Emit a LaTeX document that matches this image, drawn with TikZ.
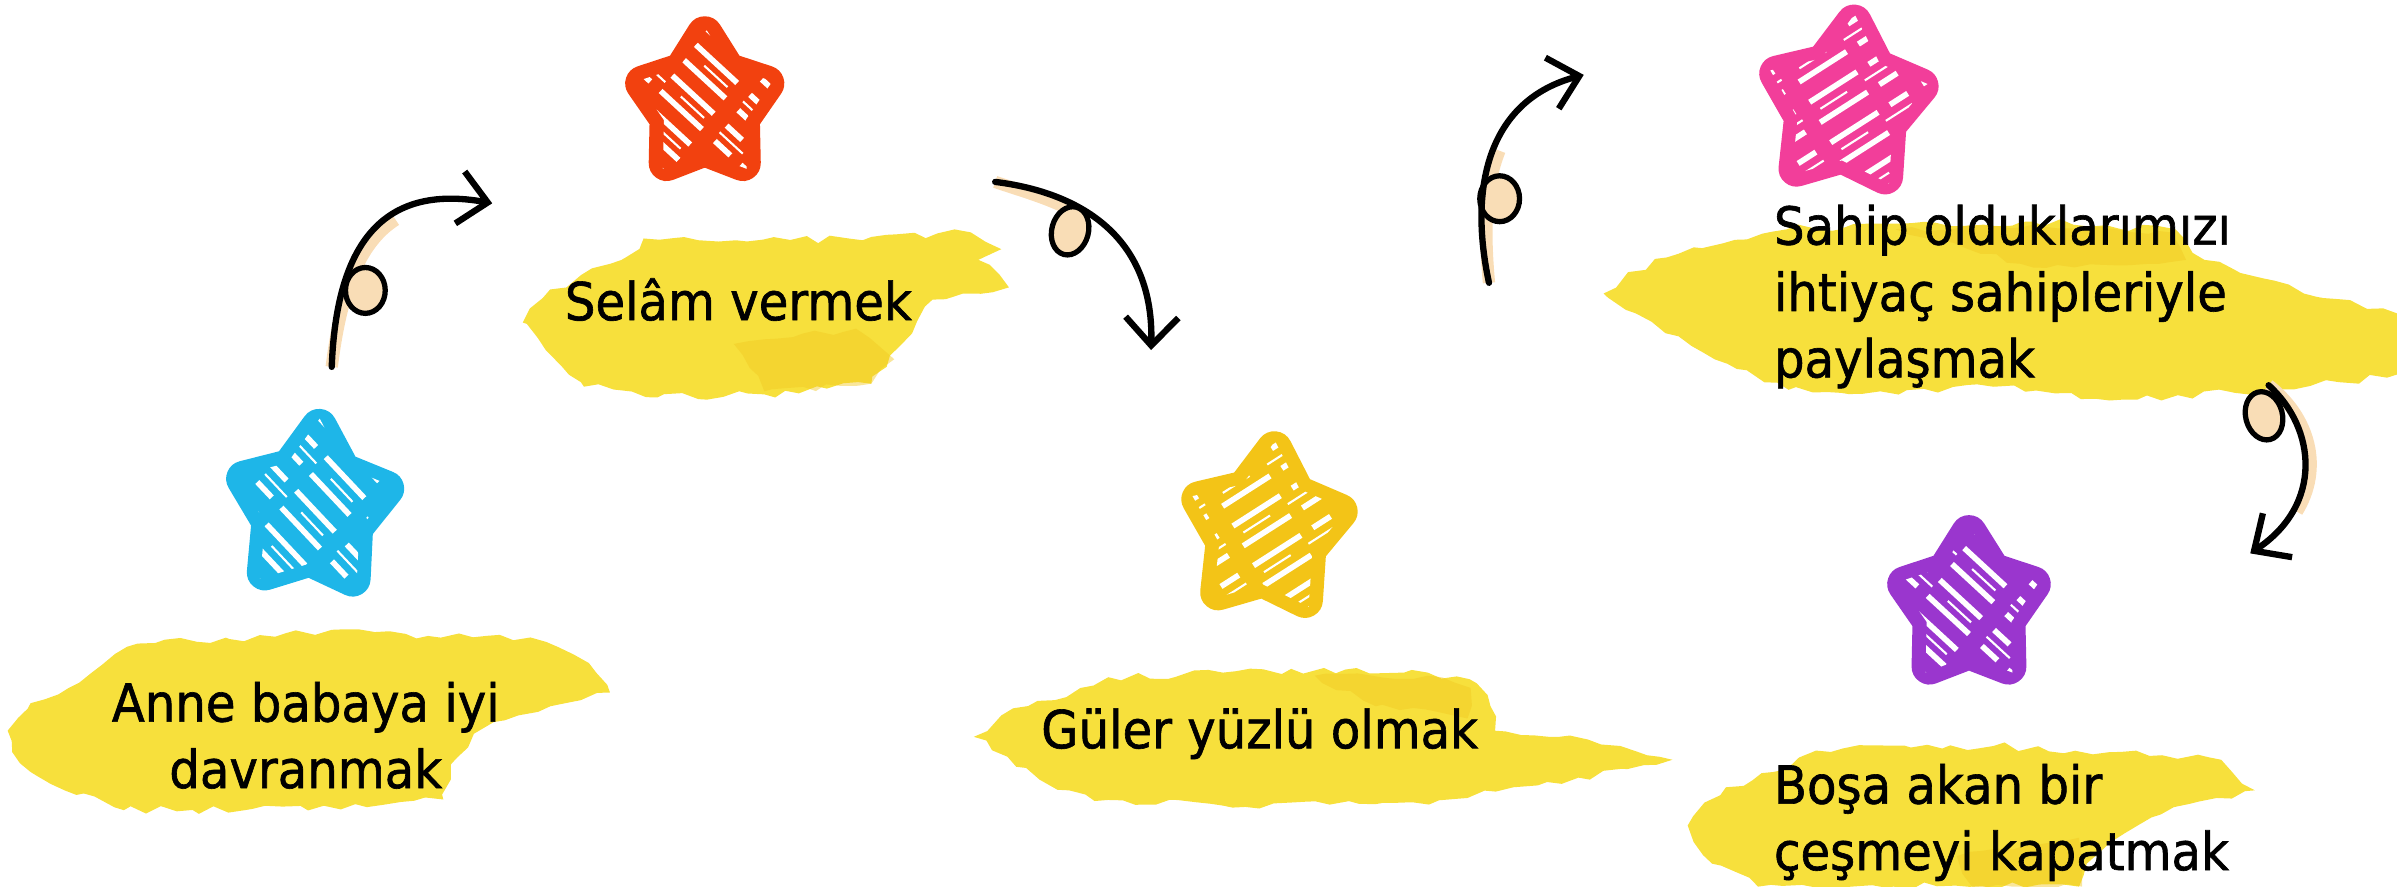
\documentclass[tikz,border=0pt]{standalone}
\usepackage{fontspec}
\newfontfamily\labelfont[FakeStretch=0.92,FakeBold=1.2]{DejaVu Sans}
\usetikzlibrary{arrows.meta,decorations.pathmorphing}

\definecolor{starblue}{HTML}{1EB6E8}
\definecolor{starred}{HTML}{F2410F}
\definecolor{staryellow}{HTML}{F3C417}
\definecolor{starpink}{HTML}{F23E9A}
\definecolor{starpurple}{HTML}{9A36CE}
\definecolor{brushlight}{HTML}{F7E03C}
\definecolor{brushdark}{HTML}{F1C822}
\definecolor{loopfill}{HTML}{F9DDB6}

\newcommand{\starpath}{(90:0.78cm) -- (126:0.47cm) -- (162:0.78cm) -- (198:0.47cm) -- (234:0.78cm) -- (270:0.47cm) -- (306:0.78cm) -- (342:0.47cm) -- (18:0.78cm) -- (54:0.47cm) -- cycle}

% #1 centre, #2 colour, #3 tilt, #4 hatch angle, #5 size
\newcommand{\hatchstar}[5]{%
	\begin{scope}[shift={#1}, rotate=#3, xscale=#5, yscale=1.1*#5]
		\filldraw[#2, line width=0.36cm, line join=round] \starpath;
		\begin{scope}
			\clip[scale=1.1] \starpath;
			\foreach \d in {-1.1,-0.88,...,1.1}
				\draw[white, line width=1.6pt, dash pattern=on 16pt off 4pt on 6pt off 5pt, rotate=#4] (\d cm,-1.4cm) -- (\d cm,1.4cm);
			\foreach \d in {-0.99,-0.55,...,1.1}
				\draw[white, line width=0.6pt, dash pattern=on 9pt off 6pt, rotate=#4] (\d cm,-1.3cm) -- (\d cm,1.4cm);
		\end{scope}
	\end{scope}}

\begin{document}
\begin{tikzpicture}[x=0.015287cm, y=-0.015287cm,
	notetext/.style={font=\labelfont\fontsize{14.9}{18.9}\selectfont, inner sep=0pt},
	brush/.style={fill=brushlight, decorate, decoration={random steps, segment length=4pt, amplitude=1.2pt}},
	brushspot/.style={fill=brushdark, opacity=0.45, decorate, decoration={random steps, segment length=4pt, amplitude=1pt}},
	flow/.style={line width=1.8pt, line cap=round, -{Straight Barb[length=8pt,width=15pt]}},
	flowshade/.style={draw=loopfill, line width=3.5pt},
	loopmark/.style={draw, line width=1.5pt, fill=loopfill}]
	\pgfmathsetseed{11}
	\useasboundingbox (0,0) rectangle (1568,580);

	% brush strokes
	\fill[brush] (5,478) -- (20,460) -- (45,450) -- (60,440) -- (90,421) -- (150,418) -- (217,412) -- (280,416) -- (347,417) -- (375,428) -- (390,440) -- (399,453) -- (380,458) -- (360,462) -- (339,468) -- (310,480) -- (295,500) -- (290,523) -- (240,528) -- (160,530) -- (81,530) -- (50,520) -- (20,505) -- (8,492) -- cycle;
	\fill[brush] (342,211) -- (355,195) -- (380,180) -- (410,168) -- (421,156) -- (470,158) -- (517,157) -- (570,155) -- (635,152) -- (655,163) -- (640,170) -- (660,188) -- (630,192) -- (610,196) -- (600,210) -- (590,225) -- (580,240) -- (570,251) -- (500,258) -- (430,260) -- (380,250) -- (357,229) -- cycle;
	\fill[brush] (637,482) -- (655,468) -- (690,458) -- (725,443) -- (800,440) -- (880,438) -- (934,440) -- (966,447) -- (975,462) -- (978,478) -- (1020,482) -- (1060,488) -- (1094,497) -- (1060,503) -- (1040,510) -- (990,515) -- (960,522) -- (900,526) -- (800,527) -- (716,524) -- (680,510) -- (659,495) -- cycle;
	\fill[brush] (1049,192) -- (1065,178) -- (1098,166) -- (1169,150) -- (1250,146) -- (1330,145) -- (1423,150) -- (1442,170) -- (1480,182) -- (1520,195) -- (1568,205) -- (1568,245) -- (1530,250) -- (1462,257) -- (1380,262) -- (1304,253) -- (1230,256) -- (1170,255) -- (1130,238) -- (1098,220) -- (1070,205) -- cycle;
	\fill[brush] (1104,540) -- (1115,525) -- (1129,515) -- (1160,505) -- (1188,491) -- (1250,489) -- (1304,488) -- (1380,492) -- (1453,497) -- (1475,517) -- (1450,522) -- (1422,528) -- (1390,545) -- (1365,565) -- (1360,580) -- (1150,580) -- (1120,565) -- cycle;
	\fill[brushspot] (480,225) -- (560,215) -- (585,235) -- (570,251) -- (500,256) -- cycle;
	\fill[brushspot] (1240,150) -- (1330,147) -- (1420,152) -- (1430,170) -- (1330,175) -- cycle;
	\fill[brushspot] (860,442) -- (934,442) -- (962,450) -- (960,470) -- (900,462) -- cycle;
	\fill[brushspot] (1280,560) -- (1360,548) -- (1362,580) -- (1290,580) -- cycle;

	% texts
	\node[notetext, align=center] (anne) at (200,481) {Anne babaya iyi\\davranmak};
	\node[notetext] (selam) at (483,196) {Selâm vermek};
	\node[notetext] (guler) at (824,480) {Güler yüzlü olmak};
	\node[notetext, align=left, anchor=west] (sahip) at (1160,194) {Sahip olduklarımızı\\ihtiyaç sahipleriyle\\paylaşmak};
	\node[notetext, align=left, anchor=west] (bosa) at (1160,538) {Boşa akan bir\\çeşmeyi kapatmak};

	% stars
	\hatchstar{(205,333)}{starblue}{-4}{50}{0.96}
	\hatchstar{(461,69)}{starred}{0}{50}{0.83}
	\hatchstar{(829,347)}{staryellow}{-5}{-55}{0.95}
	\hatchstar{(1208,69)}{starpink}{-5}{-55}{0.97}
	\hatchstar{(1288,397)}{starpurple}{0}{50}{0.86}

	% arrows
	\coordinate (a1s) at (217,240); \coordinate (a1e) at (322,133);
	\coordinate (a2s) at (651,119); \coordinate (a2e) at (753,229);
	\coordinate (a3s) at (974,185); \coordinate (a3e) at (1036,49);
	\coordinate (a4s) at (1484,252); \coordinate (a4e) at (1472,362);

	\draw[flowshade, shift={(4,1)}] (a1s) .. controls (218.8,192) and (230.3,158.4) .. (254.8,142.8);
	\draw[flowshade, shift={(-1,4)}] (a2s) .. controls (670.6,121.4) and (691.2,126.8) .. (708.7,137.5);
	\draw[flowshade, shift={(4,0)}] (a3s) .. controls (967,152.5) and (967.25,122.5) .. (976.9,98.6);
	\draw[flowshade, shift={(4,0)}] (a4s) .. controls (1507.25,273) and (1515.9,306.4) .. (1498.5,334.7);

	\draw[loopmark] (239,190) ellipse (13 and 15);
	\draw[loopmark, rotate around={-15:(700,151)}] (700,151) ellipse (12 and 16);
	\draw[loopmark] (981,130) ellipse (13 and 15);
	\draw[loopmark, rotate around={15:(1481,272)}] (1481,272) ellipse (12 and 16);

	\draw[flow] (a1s) .. controls (220,160) and (250,120) .. (a1e);
	\draw[flow] (a2s) .. controls (700,125) and (755,150) .. (a2e);
	\draw[flow] (a3s) .. controls (960,120) and (975,65) .. (a3e);
	\draw[flow] (a4s) .. controls (1515,280) and (1520,330) .. (a4e);
\end{tikzpicture}
\end{document}
